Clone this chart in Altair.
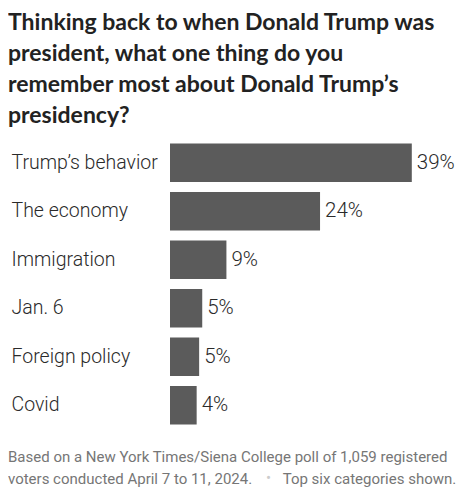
import altair as alt
import pandas as pd

categories = ["Trump’s behavior", "The economy", "Immigration", "Jan. 6", "Foreign policy", "Covid"]
values = [39, 24.2, 9.1, 5.2, 4.7, 4.3]
labels = ["39%", "24%", "9%", "5%", "5%", "4%"]

title_lines = [
    "Thinking back to when Donald Trump was",
    "president, what one thing do you",
    "remember most about Donald Trump’s",
    "presidency?",
]
note_line1 = "Based on a New York Times/Siena College poll of 1,059 registered"
note_line2a = "voters conducted April 7 to 11, 2024."
note_bullet = "•"
note_line2b = "Top six categories shown."

df = pd.DataFrame({"cat": categories, "val": values, "lab": labels})

FONT = "Roboto"
W, H = 280, 291

y = alt.Y("cat:N", sort=categories,
          scale=alt.Scale(paddingInner=0.206, paddingOuter=0.103),
          axis=alt.Axis(title=None, domain=False, ticks=False, labelAlign="left",
                        labelPadding=159, labelFontSize=19.5, labelColor="#2a2a2a",
                        labelFont=FONT, labelFontWeight=300, labelLimit=200,
                        labelBaseline="middle"))
x = alt.X("val:Q", scale=alt.Scale(domain=[0, W / 6.2], nice=False), axis=None)

base = alt.Chart(df)
bars = base.mark_bar(color="#5b5b5b").encode(x=x, y=y)
txt = base.mark_text(align="left", baseline="middle", dx=5, fontSize=20.5,
                     font=FONT, fontWeight=300, color="#2a2a2a").encode(x=x, y=y, text="lab:N")

def note(t, xv, yv, color="#767676"):
    return alt.Chart(pd.DataFrame({"t": [t]})).mark_text(
        align="left", baseline="alphabetic", fontSize=15, font=FONT, color=color
    ).encode(x=alt.value(xv), y=alt.value(yv), text="t:N")

notes = (note(note_line1, -162, 323.2) + note(note_line2a, -162, 345.5)
         + note(note_bullet, 96, 344, "#cccccc") + note(note_line2b, 112.7, 345.5))

chart = alt.layer(bars, txt, notes).properties(
    width=W, height=H,
    autosize=alt.AutoSizeParams(type="none"),
    padding={"left": 162, "top": 130.5, "right": 6, "bottom": 60},
    title=alt.TitleParams(title_lines, anchor="start", frame="group", dx=-162, dy=22,
                          font="Lato", fontSize=23, fontWeight="bold", color="#222222",
                          lineHeight=31, baseline="bottom", offset=10),
).configure_view(stroke=None)

chart.save("out.html", embed_options={"renderer": "svg", "actions": False})
